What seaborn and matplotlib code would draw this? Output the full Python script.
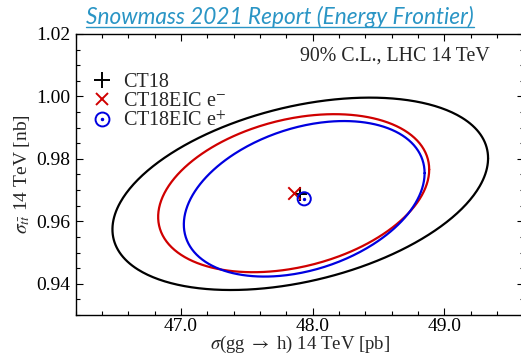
import numpy as np
import pandas as pd
import matplotlib
matplotlib.use("Agg")
import matplotlib.pyplot as plt
from matplotlib.lines import Line2D
from matplotlib.legend_handler import HandlerTuple
from matplotlib.ticker import MultipleLocator
import seaborn as sns

# Central values and 90% C.L. ellipse parameters for each PDF set
labels = ["CT18", "CT18EIC e$^{-}$", "CT18EIC e$^{+}$"]
sigma_ggh = [47.905, 47.855, 47.935]        # pb
sigma_tt = [0.9688, 0.9690, 0.9672]         # nb
ggh_halfwidth = [1.426, 1.029, 0.914]       # pb
tt_halfwidth = [0.0308, 0.0253, 0.0249]     # nb
correlation = [0.37, 0.30, 0.33]
colors = ["black", "#d00000", "#0000e0"]

x_ticks = [47.0, 48.0, 49.0]
y_ticks = [0.94, 0.96, 0.98, 1.00, 1.02]

sns.set_theme(style="ticks")
plt.rcParams["font.family"] = ["Liberation Serif", "DejaVu Serif"]
plt.rcParams["mathtext.fontset"] = "stix"

fig = plt.figure(figsize=(5.21, 3.54), dpi=100)
ax = fig.add_axes([0.1453, 0.1102, 0.8595, 0.794])

# Ellipse curves: x = x0 + a cos t, y = y0 + b cos(t - phi), cos(phi) = correlation
t = np.linspace(0, 2 * np.pi, 400)
for i, lab in enumerate(labels):
    phi = np.arccos(correlation[i])
    df = pd.DataFrame({
        "x": sigma_ggh[i] + ggh_halfwidth[i] * np.cos(t),
        "y": sigma_tt[i] + tt_halfwidth[i] * np.cos(t - phi),
    })
    sns.lineplot(data=df, x="x", y="y", sort=False, color=colors[i],
                 linewidth=1.6, ax=ax, legend=False, estimator=None)

# Central value markers
ax.scatter(sigma_ggh[0], sigma_tt[0], marker="+", s=110, color=colors[0],
           linewidths=1.4, zorder=5)
ax.scatter(sigma_ggh[1], sigma_tt[1], marker="x", s=80, color=colors[1],
           linewidths=1.4, zorder=5)
ax.scatter(sigma_ggh[2], sigma_tt[2], marker="o", s=90, facecolors="none",
           edgecolors=colors[2], linewidths=1.4, zorder=5)
ax.scatter(sigma_ggh[2], sigma_tt[2], marker="o", s=2, color=colors[2], zorder=6)

ax.set_xlim(46.2, 49.6)
ax.set_ylim(0.93, 1.02)
ax.set_xticks(x_ticks)
ax.set_xticklabels([f"{v:.1f}" for v in x_ticks])
ax.set_yticks(y_ticks)
ax.set_yticklabels([f"{v:.2f}" for v in y_ticks])
ax.xaxis.set_minor_locator(MultipleLocator(0.2))
ax.yaxis.set_minor_locator(MultipleLocator(0.005))
ax.tick_params(which="both", direction="in", top=True, right=True,
               labelsize=14, colors="black", width=0.8)
ax.tick_params(axis="x", pad=2)
ax.tick_params(axis="y", pad=4)
ax.tick_params(which="major", length=5)
ax.tick_params(which="minor", length=3)
for s in ax.spines.values():
    s.set_linewidth(1.0)
    s.set_color("black")

ax.set_xlabel(r"$\sigma$(gg $\rightarrow$ h) 14 TeV [pb]", fontsize=13.5, labelpad=-1)
ax.set_ylabel(r"$\sigma_{t\bar{t}}$ 14 TeV [nb]", fontsize=14, labelpad=3)

ax.text(0.925, 0.922, "90% C.L., LHC 14 TeV", transform=ax.transAxes,
        ha="right", va="center", fontsize=14.3)

# Legend
handles = [
    Line2D([], [], linestyle="none", marker="+", markersize=11, color=colors[0],
           markeredgewidth=1.4),
    Line2D([], [], linestyle="none", marker="x", markersize=9, color=colors[1],
           markeredgewidth=1.4),
    (Line2D([], [], linestyle="none", marker="o", markersize=10,
            markerfacecolor="none", markeredgecolor=colors[2], markeredgewidth=1.4),
     Line2D([], [], linestyle="none", marker="o", markersize=1.5, color=colors[2])),
]
ax.legend(handles, labels, loc="upper left", bbox_to_anchor=(0.018, 0.89),
          frameon=False, fontsize=14.5, handlelength=1.0, handletextpad=0.55,
          labelspacing=0.0, borderaxespad=0.0,
          handler_map={tuple: HandlerTuple(ndivide=1)})

# Header with underline
title = fig.text(0.537, 0.952, "Snowmass 2021 Report (Energy Frontier)",
                 ha="center", va="center", fontsize=16.3, style="italic",
                 family="Lato", color="#2a95c5")
fig.canvas.draw()
bb = title.get_window_extent().transformed(fig.transFigure.inverted())
fig.add_artist(Line2D([bb.x0, bb.x1], [bb.y0 + 0.004, bb.y0 + 0.004],
                      transform=fig.transFigure, color="#2a95c5", linewidth=1.0))

fig.savefig("out.png", dpi=100)
